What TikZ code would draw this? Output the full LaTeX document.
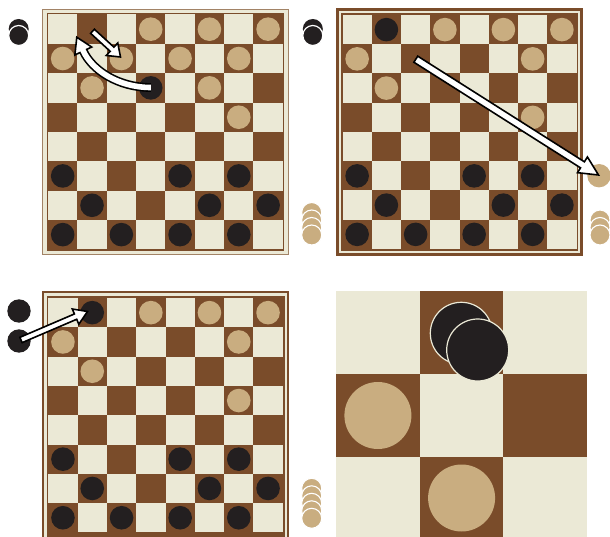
\documentclass[tikz,border=0pt]{standalone}
\usetikzlibrary{calc}
\definecolor{cream}{HTML}{EBE9D6}
\definecolor{brn}{HTML}{7A4C2A}
\definecolor{tanpc}{HTML}{C9AD80}
\definecolor{blk}{HTML}{231F20}
\tikzset{
  arrowst/.style={draw=black, fill=white, line width=1.6pt, line join=miter},
  stackpc/.style={draw=white, line width=1.1pt},
}
% light squares of an 8x8 board: x0, y0, size
\newcommand\checkers[3]{%
  \foreach \r in {0,...,7}{\foreach \c in {0,...,7}{%
    \pgfmathtruncatemacro\pty{mod(\r+\c,2)}%
    \ifnum\pty=0 \fill[cream] ({#1+\c*#3},{#2+\r*#3}) rectangle ++(#3,#3);\fi}}}
% pieces on a board: x0, y0, size, colour, list row/col
\newcommand\pcs[5]{%
  \foreach \r/\c in {#5}{\fill[#4] ({#1+(\c+0.5)*#3},{#2+(\r+0.5)*#3}) circle (11.8pt);}}
% stack of pieces: x, bottom y, count, colour
\newcommand\pilepc[4]{%
  \foreach \k in {1,...,#3}{\draw[stackpc, fill=#4] (#1,{#2-(#3-\k)*7.5}) circle (10pt);}}
% straight fat arrow: tail, tip, shaft half width, head half width, head length
\newcommand\fatarrow[5]{%
  \coordinate (hb) at ($(#2)!#5!(#1)$);
  \draw[arrowst] ($(#1)!#3!90:(#2)$) -- ($(hb)!#3!90:(#2)$) -- ($(hb)!#4!90:(#2)$) -- (#2)
    -- ($(hb)!#4!-90:(#2)$) -- ($(hb)!#3!-90:(#2)$) -- ($(#1)!#3!-90:(#2)$) -- cycle;}
\begin{document}
\begin{tikzpicture}[x=1pt,y=-1pt]
\useasboundingbox (0,0) rectangle (610,537);
\clip (0,0) rectangle (610,537);
\fill[white] (0,0) rectangle (610,537);

% ---------------- Board 1 ----------------
\draw[line width=1pt, draw=brn!65!cream, fill=cream] (42.3,9.3) rectangle (288.3,254.5);
\fill[brn] (46.6,13) rectangle (284.2,250.8);
\checkers{48}{14.5}{29.35}
\pcs{48}{14.5}{29.35}{tanpc}{0/3,0/5,0/7,1/0,1/2,1/4,1/6,2/1,2/5,3/6}
\pcs{48}{14.5}{29.35}{blk}{2/3,5/0,5/4,5/6,6/1,6/5,6/7,7/0,7/2,7/4,7/6}
% crowned piece left
\fill[blk] (18.7,29) circle (10pt);
\draw[fill=blk, draw=white, line width=1.2pt] (18.7,35.5) circle (10pt);
% captured pile
\pilepc{311.7}{235}{4}{tanpc}
% arrows
\coordinate (a1t) at (92.5,31.3);
\coordinate (a1h) at (120.5,57);
\fatarrow{a1t}{a1h}{2.8pt}{8.5pt}{11.5pt}
\coordinate (c1t) at (150.9,87.5);
\coordinate (c1b) at (83.3,51);
\coordinate (c1h) at (76.8,37.2);
\draw[black, line width=8.8pt] (c1t) .. controls (118,87.5) and (92,70) .. (c1b);
\draw[arrowst] ($(c1b)!9.3pt!90:(c1h)$) -- (c1h) -- ($(c1b)!9.3pt!-90:(c1h)$) -- cycle;
\draw[white, line width=5.6pt] (c1t) .. controls (118,87.5) and (92,70) .. (c1b) -- ($(c1b)!2pt!(c1h)$);

% ---------------- Board 2 ----------------
\fill[brn] (335.7,8.2) rectangle (583.3,255.8);
\fill[cream] (338.8,11.3) rectangle (580.2,252.7);
\fill[brn] (340.8,13.3) rectangle (578.2,250.7);
\checkers{342.5}{15}{29.25}
\pcs{342.5}{15}{29.25}{tanpc}{0/3,0/5,0/7,1/0,1/6,2/1,3/6}
\pcs{342.5}{15}{29.25}{blk}{0/1,5/0,5/4,5/6,6/1,6/5,6/7,7/0,7/2,7/4,7/6}
\fill[blk] (312.8,29) circle (10pt);
\draw[fill=blk, draw=white, line width=1.2pt] (312.8,35.5) circle (10pt);
\pilepc{600}{235}{3}{tanpc}
\fill[tanpc] (599,175.7) circle (11.7pt);
\coordinate (a2t) at (415.8,59.2);
\coordinate (a2h) at (598.5,175);
\fatarrow{a2t}{a2h}{3.6pt}{9.3pt}{19pt}

% ---------------- Board 3 ----------------
\fill[brn] (41.7,291.4) rectangle (289.3,545);
\fill[cream] (43.7,293.4) rectangle (287.3,543);
\fill[brn] (46.5,296.2) rectangle (284.5,540);
\checkers{48.3}{298}{29.3}
\pcs{48.3}{298}{29.3}{tanpc}{0/3,0/5,0/7,1/0,1/6,2/1,3/6}
\pcs{48.3}{298}{29.3}{blk}{0/1,5/0,5/4,5/6,6/1,6/5,6/7,7/0,7/2,7/4,7/6}
\fill[blk] (19,311) circle (11.7pt);
\fill[blk] (19,341) circle (11.7pt);
\pilepc{311.7}{518.3}{5}{tanpc}
\coordinate (a3t) at (21,340);
\coordinate (a3h) at (87.5,311.5);
\fatarrow{a3t}{a3h}{2.9pt}{8.3pt}{13pt}

% ---------------- Board 4 (detail) ----------------
\fill[cream] (336,291) rectangle (587.1,540);
\fill[brn] (419.7,291) rectangle (503.4,374);
\fill[brn] (336,374) rectangle (419.7,457);
\fill[brn] (503.4,374) rectangle (587.1,457);
\fill[brn] (419.7,457) rectangle (503.4,540);
\fill[tanpc] (377.9,415.5) circle (33.5pt);
\fill[tanpc] (461.6,498) circle (33.5pt);
\draw[fill=blk, draw=cream, line width=1.2pt] (461.3,333.3) circle (31pt);
\draw[fill=blk, draw=cream, line width=1.2pt] (477.7,350) circle (31pt);
\end{tikzpicture}
\end{document}
